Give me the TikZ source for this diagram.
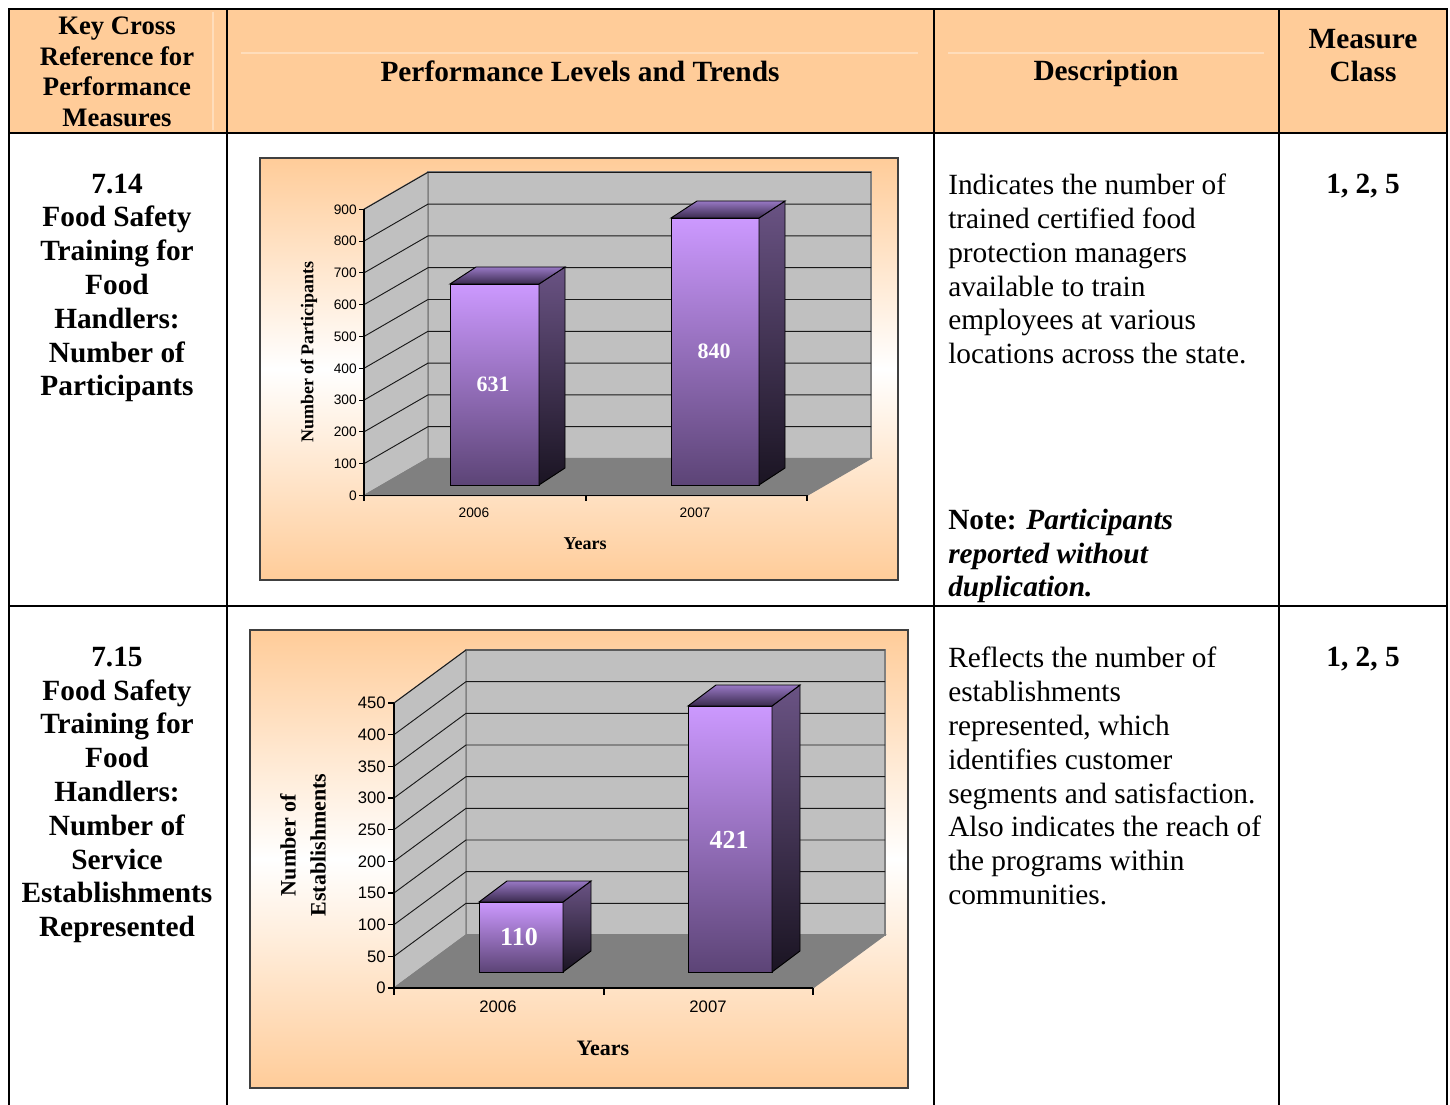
\documentclass[tikz,border=0pt]{standalone}
\usepackage{fontspec}
\setmainfont{Liberation Serif}
\newfontfamily\arialfont{Liberation Sans}
\usepackage{tikz}

\definecolor{peach}{HTML}{FFCC99}
\definecolor{peachline}{HTML}{FFDDBB}
\definecolor{wallgray}{HTML}{C0C0C0}
\definecolor{floorgray}{HTML}{808080}
\definecolor{barlight}{HTML}{CC99FF}
\definecolor{bardark}{HTML}{5C4476}
\definecolor{sidetop}{HTML}{6A5384}
\definecolor{sidebot}{HTML}{1A1422}
\definecolor{toplight}{HTML}{9878C4}
\definecolor{topdark}{HTML}{3A2A4E}

\begin{document}
\begin{tikzpicture}[x=0.75pt,y=-0.75pt,
  rule/.style={line width=1.6pt},
  faintline/.style={draw=peachline,line width=0.8pt},
  hdr/.style={font=\bfseries\fontsize{22}{24.75}\selectfont,align=center,inner sep=0pt},
  keycol/.style={font=\bfseries\fontsize{22}{25.35}\selectfont,align=center,inner sep=0pt},
  desc/.style={font=\fontsize{22}{25.4}\selectfont,align=left,inner sep=0pt,anchor=west},
  chartbox/.style={draw=black!75,line width=0.8pt,top color=peach,bottom color=peach,middle color=white},
  wallface/.style={fill=wallgray,draw=floorgray,line width=0.8pt},
  floorface/.style={fill=floorgray,draw=floorgray,line width=0.8pt},
  gridline/.style={draw=black!90,line width=0.7pt},
  axisline/.style={draw=black,line width=0.8pt},
  barfront/.style={top color=barlight,bottom color=bardark,draw=black,line width=0.7pt},
  barside/.style={top color=sidetop,bottom color=sidebot,draw=black,line width=0.7pt},
  bartop/.style={top color=toplight,bottom color=topdark,draw=black,line width=0.7pt},
  ticka/.style={font=\arialfont\fontsize{10.3}{12}\selectfont,inner sep=0pt},
  tickb/.style={font=\arialfont\fontsize{12.5}{14}\selectfont,inner sep=0pt},
  barvala/.style={text=white,font=\bfseries\fontsize{16.5}{18}\selectfont,inner sep=0pt},
  barvalb/.style={text=white,font=\bfseries\fontsize{19.5}{21}\selectfont,inner sep=0pt},
  titlea/.style={font=\bfseries\fontsize{13.5}{16}\selectfont,inner sep=0pt},
  titleb/.style={font=\bfseries\fontsize{16.5}{22.5}\selectfont,align=center,inner sep=0pt}]
\useasboundingbox (0,0) rectangle (1450,1105);

% header band
\fill[peach] (9,9) rectangle (1447,133);
\draw[faintline] (213,12) -- (213,130);
\draw[faintline] (241,53) -- (918,53);
\draw[faintline] (948,53) -- (1264,53);

% table rules
\draw[rule] (9,1105) -- (9,9) -- (1447,9) -- (1447,1105);
\draw[rule] (9,133) -- (1447,133);
\draw[rule] (9,606) -- (1447,606);
\foreach \cx in {227,934,1279} \draw[rule] (\cx,9) -- (\cx,1105);

% header texts
\node[hdr,font=\bfseries\fontsize{20}{22.9}\selectfont] (hkey) at (117,72) {Key Cross\\Reference for\\Performance\\Measures};
\node[hdr] (hperf) at (580,71) {Performance Levels and Trends};
\node[hdr] (hdesc) at (1106,73) {Description};
\node[hdr] (hclass) at (1363,56) {Measure\\Class};

% row 7.14
\node[keycol] (k714) at (117,288) {7.14\\Food Safety\\Training for\\Food\\Handlers:\\Number of\\Participants};
\node[desc] (d714) at (948,269) {Indicates the number of\\trained certified food\\protection managers\\available to train\\employees at various\\locations across the state.};
\node[desc] (n714) at (948,556) {\textbf{Note:} \textbf{\textit{Participants}}\\\textbf{\textit{reported without}}\\\textbf{\textit{duplication.}}};
\node[hdr] (c714) at (1363,186) {1, 2, 5};

% row 7.15
\node[keycol] (k715) at (117,795) {7.15\\Food Safety\\Training for\\Food\\Handlers:\\Number of\\Service\\Establishments\\Represented};
\node[desc] (d715) at (948,776) {Reflects the number of\\establishments\\represented, which\\identifies customer\\segments and satisfaction.\\Also indicates the reach of\\the programs within\\communities.};
\node[hdr] (c715) at (1363,659) {1, 2, 5};

% chart 1: participants
\shade[chartbox] (260,158) rectangle (898,580);
\filldraw[wallface] (428,458.5) rectangle (871,172);
\filldraw[wallface] (364,495.5) -- (428,458.5) -- (428,172) -- (364,209) -- cycle;
\filldraw[floorface] (364,495.5) -- (428,458.5) -- (871,458.5) -- (807,495.5) -- cycle;
\foreach \v in {100,200,...,900}
  \draw[gridline] (364,495.5-\v*0.318) -- (428,458.5-\v*0.318) -- (871,458.5-\v*0.318);
\draw[axisline] (364,209) -- (364,495.5) -- (807,495.5);
\foreach \v in {0,100,...,900} {
  \draw[axisline] (359,495.5-\v*0.318) -- (364,495.5-\v*0.318);
  \node[ticka,anchor=east] (ya\v) at (357,495.5-\v*0.318) {\v};
}
\foreach \cx in {364,586,807} \draw[axisline] (\cx,495.5) -- (\cx,501);
\foreach \l/\r/\t in {450/539/284, 671/759/218} {
  \shade[barfront] (\l,\t) rectangle (\r,485);
  \shade[barside] (\r,\t) -- (\r+26,\t-17) -- (\r+26,468) -- (\r,485) -- cycle;
  \shade[bartop] (\l,\t) -- (\l+26,\t-17) -- (\r+26,\t-17) -- (\r,\t) -- cycle;
}
\node[barvala] (v631) at (493,384) {631};
\node[barvala] (v840) at (714,351) {840};
\node[ticka] (xa1) at (474,513) {2006};
\node[ticka] (xa2) at (695,513) {2007};
\node[titlea] (yra) at (585,544) {Years};
\node[titlea,rotate=90] (yta) at (309,352) {Number of Participants};

% chart 2: establishments
\shade[chartbox] (250,630) rectangle (908,1088);
\filldraw[wallface] (466,935) rectangle (885,650);
\filldraw[wallface] (394,988) -- (466,935) -- (466,650) -- (394,703) -- cycle;
\filldraw[floorface] (394,988) -- (466,935) -- (885,935) -- (813,988) -- cycle;
\foreach \v in {50,100,...,450}
  \draw[gridline] (394,988-\v*0.6333) -- (466,935-\v*0.6333) -- (885,935-\v*0.6333);
\draw[axisline] (394,703) -- (394,988) -- (813,988);
\foreach \v in {0,50,...,450} {
  \draw[axisline] (388,988-\v*0.6333) -- (394,988-\v*0.6333);
  \node[tickb,anchor=east] (yb\v) at (386,988-\v*0.6333) {\v};
}
\foreach \cx in {394,604,813} \draw[axisline] (\cx,988) -- (\cx,995);
\foreach \l/\r/\t in {479/563/902, 688/772/706} {
  \shade[barfront] (\l,\t) rectangle (\r,972);
  \shade[barside] (\r,\t) -- (\r+28,\t-21) -- (\r+28,951) -- (\r,972) -- cycle;
  \shade[bartop] (\l,\t) -- (\l+28,\t-21) -- (\r+28,\t-21) -- (\r,\t) -- cycle;
}
\node[barvalb] (v110) at (519,937) {110};
\node[barvalb] (v421) at (729,840) {421};
\node[tickb] (xb1) at (498,1007) {2006};
\node[tickb] (xb2) at (708,1007) {2007};
\node[titleb] (yrb) at (603,1048) {Years};
\node[titleb,rotate=90] (ytb) at (303,845) {Number of\\Establishments};
\end{tikzpicture}
\end{document}
